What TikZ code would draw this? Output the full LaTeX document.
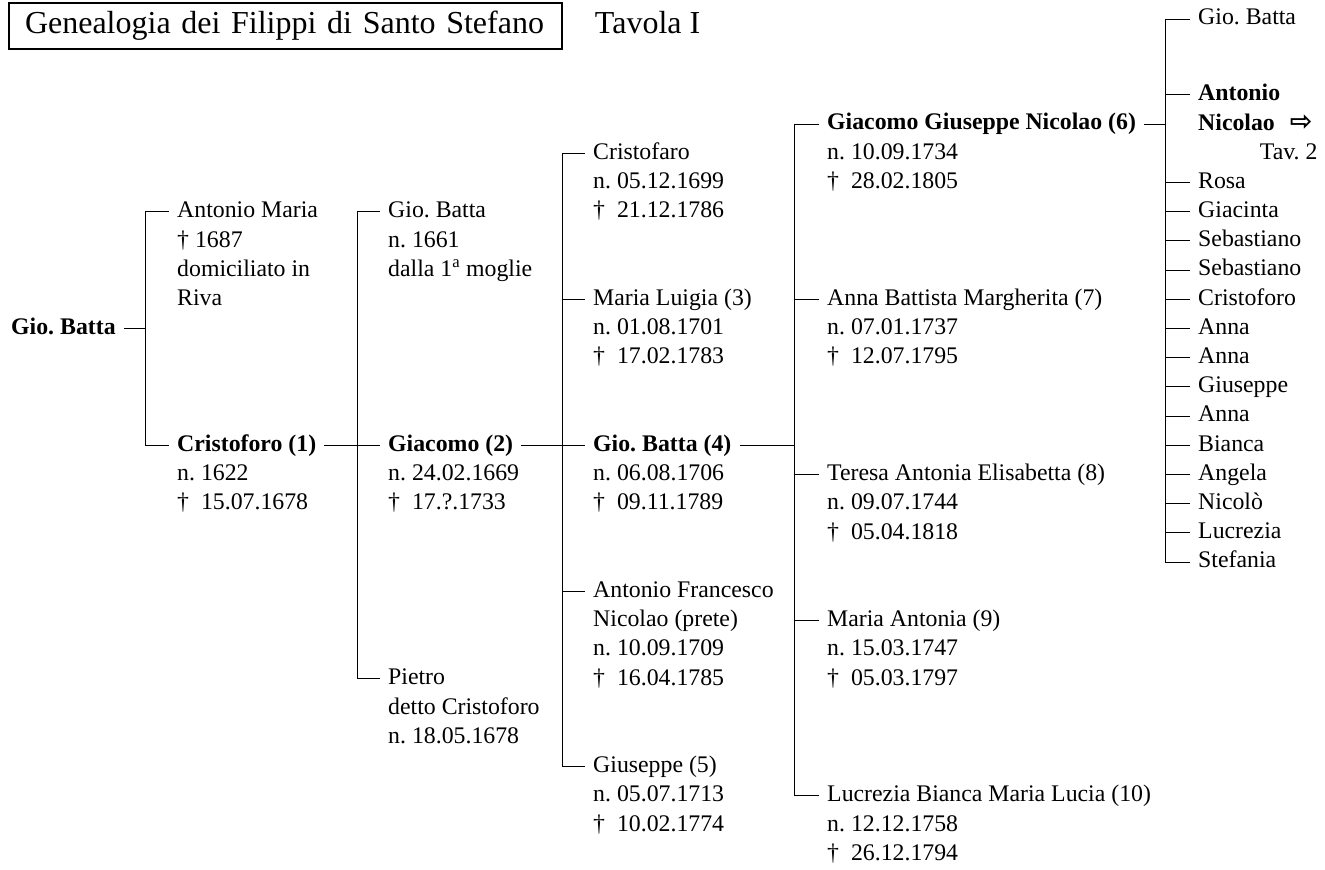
\documentclass[tikz,border=0pt]{standalone}
\usepackage{fontspec}
\setmainfont{Liberation Serif}
\newfontfamily\arrowfont{DejaVu Sans}
\usetikzlibrary{positioning}

\newcommand{\bodyfont}{\fontsize{23.8}{29.2}\selectfont\frenchspacing}
\newcommand{\titlefont}{\fontsize{32}{36}\selectfont\frenchspacing}
\newcommand{\dd}[1]{†\enskip#1}

\begin{document}
\begin{tikzpicture}[
    x=1pt, y=-29.2pt,  % x in pixels, y in text rows
    every node/.style={inner sep=0pt},
    person/.style={anchor=west, font=\bodyfont, execute at begin node=\strut},
    head/.style={person, font=\bodyfont\bfseries},
    detail/.style={anchor=north west, align=left, font=\bodyfont},
    titlebox/.style={draw, line width=1.5pt, minimum width=553pt, minimum height=46pt,
        text width=521pt, font=\titlefont},
    bar/.style={line width=0.9pt},
    tick/.style={bar, shorten >=8pt},
    stem/.style={bar, shorten <=8pt}
]
    \useasboundingbox (0,-4.2466) rectangle (1325,25.514);

    % title
    \node[titlebox] (title) at (285.5,-3.356) {\mbox{Genealogia dei Filippi di Santo Stefano}};
    \node[anchor=base west, font=\titlefont] (tavola) at ([xshift=32pt]title.base east) {Tavola I};

    % x of the family bars
    \coordinate (bar1) at (145,0);
    \coordinate (bar2) at (357,0);
    \coordinate (bar3) at (562,0);
    \coordinate (bar4) at (794,0);
    \coordinate (bar5) at (1165,0);

    % generation 0 and 1
    \node[head] (gb0) at (11,7) {Gio. Batta};
    \node[person] (antm) at (177,3) {Antonio Maria};
    \node[detail] (antm-d) at (antm.south west) {\strut† 1687\\domiciliato in\\Riva};
    \node[head] (cris1) at (177,11) {Cristoforo (1)};
    \node[detail] (cris1-d) at (cris1.south west) {\strut n. 1622\\\dd{15.07.1678}};

    % generation 2
    \node[person] (giob) at (388,3) {Gio. Batta};
    \node[detail] (giob-d) at (giob.south west) {\strut n. 1661\\dalla 1\textsuperscript{a} moglie};
    \node[head] (giac2) at (388,11) {Giacomo (2)};
    \node[detail] (giac2-d) at (giac2.south west) {\strut n. 24.02.1669\\\dd{17.?.1733}};
    \node[person] (pietro) at (388,19) {Pietro};
    \node[detail] (pietro-d) at (pietro.south west) {\strut detto Cristoforo\\n. 18.05.1678};

    % generation 3
    \node[person] (cristo) at (593,1) {Cristofaro};
    \node[detail] (cristo-d) at (cristo.south west) {\strut n. 05.12.1699\\\dd{21.12.1786}};
    \node[person] (marl3) at (593,6) {Maria Luigia (3)};
    \node[detail] (marl3-d) at (marl3.south west) {\strut n. 01.08.1701\\\dd{17.02.1783}};
    \node[head] (gb4) at (593,11) {Gio. Batta (4)};
    \node[detail] (gb4-d) at (gb4.south west) {\strut n. 06.08.1706\\\dd{09.11.1789}};
    \node[person] (antf) at (593,16) {Antonio Francesco};
    \node[detail] (antf-d) at (antf.south west) {\strut Nicolao (prete)\\n. 10.09.1709\\\dd{16.04.1785}};
    \node[person] (giu5) at (593,22) {Giuseppe (5)};
    \node[detail] (giu5-d) at (giu5.south west) {\strut n. 05.07.1713\\\dd{10.02.1774}};

    % generation 4
    \node[head] (ggn6) at (827,0) {Giacomo Giuseppe Nicolao (6)};
    \node[detail] (ggn6-d) at (ggn6.south west) {\strut n. 10.09.1734\\\dd{28.02.1805}};
    \node[person] (anb7) at (827,6) {Anna Battista Margherita (7)};
    \node[detail] (anb7-d) at (anb7.south west) {\strut n. 07.01.1737\\\dd{12.07.1795}};
    \node[person] (tae8) at (827,12) {Teresa Antonia Elisabetta (8)};
    \node[detail] (tae8-d) at (tae8.south west) {\strut n. 09.07.1744\\\dd{05.04.1818}};
    \node[person] (man9) at (827,17) {Maria Antonia (9)};
    \node[detail] (man9-d) at (man9.south west) {\strut n. 15.03.1747\\\dd{05.03.1797}};
    \node[person] (lbml10) at (827,23) {Lucrezia Bianca Maria Lucia (10)};
    \node[detail] (lbml10-d) at (lbml10.south west) {\strut n. 12.12.1758\\\dd{26.12.1794}};

    % generation 5
    \node[person] (gb5) at (1198,-3.596) {Gio. Batta};
    \node[head] (an5) at (1198,-1) {Antonio};
    \node[detail, font=\bodyfont\bfseries] (an5-d) at (an5.south west)
        {\strut Nicolao\hspace{15pt}{\arrowfont\fontsize{27}{29}\selectfont ⇨}};
    \node[detail, anchor=north east] (tav2) at ([xshift=5pt]an5-d.south east) {\strut Tav. 2};
    \foreach \nm [count=\r from 2] in {Rosa,Giacinta,Sebastiano,Sebastiano,Cristoforo,Anna,Anna,
        Giuseppe,Anna,Bianca,Angela,Nicolò,Lucrezia,Stefania}
        \node[person] (s\r) at (1198,\r) {\nm};

    % connectors
    \draw[stem] (gb0.east) -- (gb0.east -| bar1);
    \draw[bar] (antm.west -| bar1) -- (cris1.west -| bar1);
    \foreach \c in {antm,cris1}
        \draw[tick] (\c.west -| bar1) -- (\c.west);

    \draw[stem] (cris1.east) -- (cris1.east -| bar2);
    \draw[bar] (giob.west -| bar2) -- (pietro.west -| bar2);
    \foreach \c in {giob,giac2,pietro}
        \draw[tick] (\c.west -| bar2) -- (\c.west);

    \draw[stem] (giac2.east) -- (giac2.east -| bar3);
    \draw[bar] (cristo.west -| bar3) -- (giu5.west -| bar3);
    \foreach \c in {cristo,marl3,gb4,antf,giu5}
        \draw[tick] (\c.west -| bar3) -- (\c.west);

    \draw[stem] (gb4.east) -- (gb4.east -| bar4);
    \draw[bar] (ggn6.west -| bar4) -- (lbml10.west -| bar4);
    \foreach \c in {ggn6,anb7,tae8,man9,lbml10}
        \draw[tick] (\c.west -| bar4) -- (\c.west);

    \draw[stem] (ggn6.east) -- (ggn6.east -| bar5);
    \draw[bar] (gb5.west -| bar5) -- (s15.west -| bar5);
    \foreach \c in {gb5,an5,s2,s3,s4,s5,s6,s7,s8,s9,s10,s11,s12,s13,s14,s15}
        \draw[tick] (\c.west -| bar5) -- (\c.west);
\end{tikzpicture}
\end{document}
